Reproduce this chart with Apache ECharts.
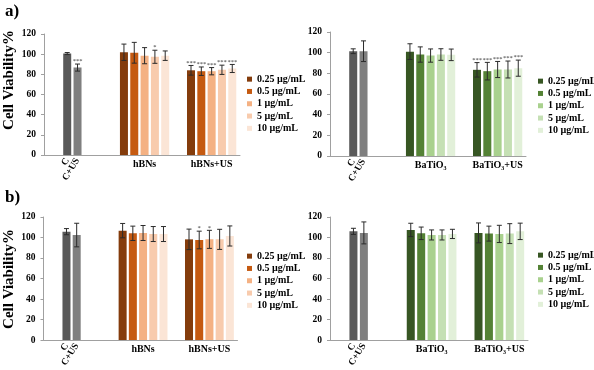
<!DOCTYPE html>
<html>
<head>
<meta charset="utf-8">
<script src="https://cdn.jsdelivr.net/npm/echarts@6/dist/echarts.min.js"></script>
<style>html,body{margin:0;padding:0;background:#fff}#c{width:594px;height:370px}</style>
</head>
<body>
<div id="c"></div>
<script>
// ---- labels ----
const concLabels = ['0.25 µg/mL', '0.5 µg/mL', '1 µg/mL', '5 µg/mL', '10 µg/mL'];
const controlLabels = ['C', 'C+US'];
const hbnGroups = ['hBNs', 'hBNs+US'];
const batGroups = ['BaTiO₃', 'BaTiO₃+US'];
const panelLabels = ['a)', 'b)'];
const yTitle = 'Cell Viability%';
const yMin = 0, yMax = 120, yStep = 20;

// ---- panel a, hBNs ----
const aH_ctrl = [100.6, 86.7];
const aH_ctrlSd = [1.0, 3.5];
const aH_ctrlSig = ['', '***'];
const aH_np = [101.9, 101.4, 98.5, 97.4, 98.5];
const aH_npSd = [8.1, 10.3, 8.0, 6.5, 4.7];
const aH_npSig = ['', '', '', '*', ''];
const aH_us = [84.0, 83.1, 83.1, 84.5, 85.8];
const aH_usSd = [4.8, 4.2, 3.6, 4.6, 4.0];
const aH_usSig = ['***', '***', '***', '***', '***'];

// ---- panel a, BaTiO3 ----
const aB_ctrl = [101.4, 101.4];
const aB_ctrlSd = [2.3, 10.0];
const aB_ctrlSig = ['', ''];
const aB_np = [101.0, 98.2, 97.2, 98.2, 97.9];
const aB_npSd = [7.6, 7.4, 6.4, 5.6, 5.6];
const aB_npSig = ['', '', '', '', ''];
const aB_us = [83.4, 82.1, 83.7, 83.7, 85.0];
const aB_usSd = [7.0, 8.5, 7.8, 8.2, 7.8];
const aB_usSig = ['***', '***', '***', '***', '***'];

// ---- panel b, hBNs ----
const bH_ctrl = [105.7, 102.4];
const bH_ctrlSd = [3.0, 11.5];
const bH_ctrlSig = ['', ''];
const bH_np = [106.7, 104.1, 104.4, 103.4, 103.4];
const bH_npSd = [7.0, 7.0, 7.3, 7.3, 7.3];
const bH_npSig = ['', '', '', '', ''];
const bH_us = [98.2, 97.6, 98.2, 98.2, 101.5];
const bH_usSd = [10.0, 8.6, 8.8, 9.8, 9.8];
const bH_usSig = ['', '*', '*', '', ''];

// ---- panel b, BaTiO3 ----
const bB_ctrl = [106.0, 104.5];
const bB_ctrlSd = [3.0, 10.7];
const bB_ctrlSig = ['', ''];
const bB_np = [107.4, 104.1, 102.5, 102.5, 103.5];
const bB_npSd = [6.5, 6.1, 4.9, 4.9, 4.5];
const bB_npSig = ['', '', '', '', ''];
const bB_us = [104.5, 103.8, 103.5, 103.8, 106.0];
const bB_usSd = [9.7, 7.3, 8.4, 9.7, 8.0];
const bB_usSig = ['', '', '', '', ''];

// ---- styles ----
const grays = ['#595959', '#7f7f7f'];
const browns = ['#843c0c', '#c55a11', '#f4b183', '#f8cbad', '#fbe5d6'];
const greens = ['#375623', '#548235', '#a9d18e', '#c5e0b4', '#e2f0d9'];
const FONT = '"Liberation Serif", "Times New Roman", serif';
const AXIS_COLOR = '#a0a0a0';

// slot layout of the category axis
const SLOTS = 38;
const ctrlSlots = [4, 6];
const groupStart = [15, 28];
const groupLabelSlot = [19, 32];

const panels = [
  { key: 'aH', grid: { left: 44, top: 34, width: 196, height: 121 }, legend: { left: 242, top: 68 },
    ctrl: aH_ctrl, ctrlSd: aH_ctrlSd, ctrlSig: aH_ctrlSig, groups: hbnGroups, pal: browns,
    sets: [[aH_np, aH_npSd, aH_npSig], [aH_us, aH_usSd, aH_usSig]] },
  { key: 'aB', grid: { left: 330, top: 32, width: 196, height: 124 }, legend: { left: 533, top: 70 },
    ctrl: aB_ctrl, ctrlSd: aB_ctrlSd, ctrlSig: aB_ctrlSig, groups: batGroups, pal: greens,
    sets: [[aB_np, aB_npSd, aB_npSig], [aB_us, aB_usSd, aB_usSig]] },
  { key: 'bH', grid: { left: 43.5, top: 217, width: 194, height: 123.5 }, legend: { left: 242, top: 245 },
    ctrl: bH_ctrl, ctrlSd: bH_ctrlSd, ctrlSig: bH_ctrlSig, groups: hbnGroups, pal: browns,
    sets: [[bH_np, bH_npSd, bH_npSig], [bH_us, bH_usSd, bH_usSig]] },
  { key: 'bB', grid: { left: 330, top: 217, width: 198, height: 124 }, legend: { left: 533, top: 244 },
    ctrl: bB_ctrl, ctrlSd: bB_ctrlSd, ctrlSig: bB_ctrlSig, groups: batGroups, pal: greens,
    sets: [[bB_np, bB_npSd, bB_npSig], [bB_us, bB_usSd, bB_usSig]] }
];

const option = { animation: false, backgroundColor: '#fff', grid: [], xAxis: [], yAxis: [], series: [], legend: [], graphic: [] };
const cats = Array.from({ length: SLOTS }, (_, i) => String(i));

panels.forEach((p, pi) => {
  option.grid.push(Object.assign({ containLabel: false }, p.grid));
  const ctrlMap = {}; ctrlSlots.forEach((s, i) => ctrlMap[s] = controlLabels[i]);
  const grpMap = {}; groupLabelSlot.forEach((s, i) => grpMap[s] = p.groups[i]);
  const xMain = option.xAxis.length;
  option.xAxis.push({
    type: 'category', gridIndex: pi, data: cats, position: 'bottom',
    axisLine: { show: true, lineStyle: { color: AXIS_COLOR, width: 1 } },
    axisTick: { show: false },
    axisLabel: { interval: 0, rotate: 58, margin: 4, formatter: v => ctrlMap[v] || '',
      fontFamily: FONT, fontWeight: 'bold', fontSize: 9.5, color: '#000' }
  });
  option.xAxis.push({
    type: 'category', gridIndex: pi, data: cats, position: 'bottom',
    axisLine: { show: false }, axisTick: { show: false },
    axisLabel: { interval: 0, margin: 4, formatter: v => grpMap[v] || '',
      fontFamily: FONT, fontWeight: 'bold', fontSize: 10, color: '#000' }
  });
  option.yAxis.push({
    type: 'value', gridIndex: pi, min: yMin, max: yMax, interval: yStep,
    axisLine: { show: true, lineStyle: { color: AXIS_COLOR, width: 1 } },
    axisTick: { show: true, length: 3, lineStyle: { color: AXIS_COLOR } },
    splitLine: { show: false },
    axisLabel: { margin: 8, fontFamily: FONT, fontWeight: 'bold', fontSize: 9.5, color: '#000' }
  });

  const errData = [];
  const sigs = [];
  // control bars
  const ctrlArr = new Array(SLOTS).fill(null);
  ctrlSlots.forEach((s, i) => {
    ctrlArr[s] = { value: p.ctrl[i], itemStyle: { color: grays[i] } };
    errData.push([s, p.ctrl[i], p.ctrlSd[i]]); sigs.push(p.ctrlSig[i]);
  });
  option.series.push({ type: 'bar', name: p.key + '|ctrl', xAxisIndex: xMain, yAxisIndex: pi,
    data: ctrlArr, barWidth: 8, barGap: '-100%' });
  // concentration series
  const names = [];
  concLabels.forEach((lab, k) => {
    const arr = new Array(SLOTS).fill(null);
    p.sets.forEach((set, g) => {
      const s = groupStart[g] + 2 * k;
      arr[s] = set[0][k];
      errData.push([s, set[0][k], set[1][k]]); sigs.push(set[2][k]);
    });
    const nm = p.key + '|' + lab;
    names.push(nm);
    option.series.push({ type: 'bar', name: nm, xAxisIndex: xMain, yAxisIndex: pi,
      data: arr, barWidth: 8, barGap: '-100%', itemStyle: { color: p.pal[k] } });
  });
  option.series.push({
    type: 'custom', name: p.key + '|err', xAxisIndex: xMain, yAxisIndex: pi, data: errData,
    encode: { x: 0, y: 1 }, z: 10,
    renderItem: (params, api) => {
      const x = api.value(0), v = api.value(1), sd = api.value(2);
      const top = api.coord([x, v + sd]);
      const bot = api.coord([x, v - sd]);
      const hw = 2.5;
      const ls = { stroke: '#2b2b2b', lineWidth: 1 };
      const children = [
        { type: 'line', shape: { x1: top[0], y1: top[1], x2: bot[0], y2: bot[1] }, style: ls },
        { type: 'line', shape: { x1: top[0] - hw, y1: top[1], x2: top[0] + hw, y2: top[1] }, style: ls },
        { type: 'line', shape: { x1: bot[0] - hw, y1: bot[1], x2: bot[0] + hw, y2: bot[1] }, style: ls }
      ];
      const sg = sigs[params.dataIndex];
      if (sg) children.push({ type: 'text', style: { text: sg, x: top[0], y: top[1] + 1,
        align: 'center', verticalAlign: 'bottom', fontSize: 6.5, fontFamily: FONT, fill: '#333' } });
      return { type: 'group', children };
    }
  });
  option.legend.push({
    data: names, orient: 'vertical', left: p.legend.left, top: p.legend.top,
    icon: 'rect', itemWidth: 5, itemHeight: 5, itemGap: 0, selectedMode: false,
    formatter: n => n.split('|')[1],
    textStyle: { fontFamily: FONT, fontWeight: 'bold', fontSize: 10, lineHeight: 12.3, color: '#000' }
  });
});

option.graphic = [
  { type: 'text', left: 5, top: 3, style: { text: panelLabels[0], font: 'bold 17px ' + FONT, fill: '#000' } },
  { type: 'text', left: 5, top: 189, style: { text: panelLabels[1], font: 'bold 17px ' + FONT, fill: '#000' } },
  { type: 'text', x: 9, y: 80, rotation: Math.PI / 2,
    style: { text: yTitle, align: 'center', verticalAlign: 'middle', font: 'bold 15px ' + FONT, fill: '#000' } },
  { type: 'text', x: 9, y: 279, rotation: Math.PI / 2,
    style: { text: yTitle, align: 'center', verticalAlign: 'middle', font: 'bold 15px ' + FONT, fill: '#000' } }
];

const chart = echarts.init(document.getElementById('c'), null, { renderer: 'canvas' });
chart.setOption(option);
</script>
</body>
</html>
